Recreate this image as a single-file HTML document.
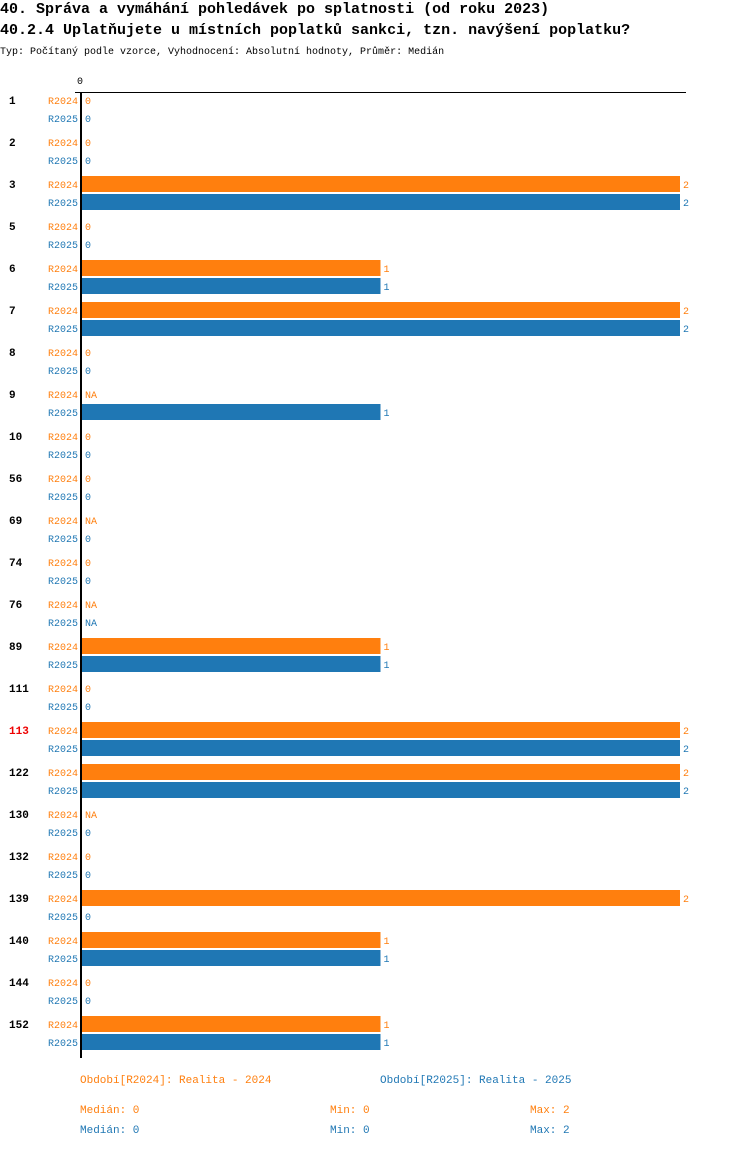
<!DOCTYPE html>
<html><head><meta charset="utf-8"><style>
body{margin:0;background:#fff;width:750px;height:1148px;overflow:hidden;font-family:"Liberation Mono",monospace}
text{font-family:"Liberation Mono",monospace}
</style></head><body>
<svg id="c" width="750" height="1148">
<text x="0" y="13" font-size="15" font-weight="bold">40. Správa a vymáhání pohledávek po splatnosti (od roku 2023)</text>
<text x="0" y="34" font-size="15" font-weight="bold">40.2.4 Uplatňujete u místních poplatků sankci, tzn. navýšení poplatku?</text>
<text x="0" y="54" font-size="10">Typ: Počítaný podle vzorce, Vyhodnocení: Absolutní hodnoty, Průměr: Medián</text>
<text x="80" y="84" font-size="10" text-anchor="middle">0</text>
<line x1="75" y1="92.5" x2="686" y2="92.5" stroke="#000"/>
<g id="bars"></g>
<line x1="81" y1="92" x2="81" y2="1058" stroke="#000" stroke-width="2"/>
<g font-size="11">
<text x="80" y="1083" fill="#ff7f0e">Období[R2024]: Realita - 2024</text>
<text x="380" y="1083" fill="#1f77b4">Období[R2025]: Realita - 2025</text>
<text x="80" y="1113" fill="#ff7f0e">Medián: 0</text>
<text x="330" y="1113" fill="#ff7f0e">Min: 0</text>
<text x="530" y="1113" fill="#ff7f0e">Max: 2</text>
<text x="80" y="1133" fill="#1f77b4">Medián: 0</text>
<text x="330" y="1133" fill="#1f77b4">Min: 0</text>
<text x="530" y="1133" fill="#1f77b4">Max: 2</text>
</g>
</svg>
<script>
const categories=["1","2","3","5","6","7","8","9","10","56","69","74","76","89","111","113","122","130","132","139","140","144","152"];
const r2024=[0,0,2,0,1,2,0,null,0,0,null,0,null,1,0,2,2,null,0,2,1,0,1];
const r2025=[0,0,2,0,1,2,0,1,0,0,0,0,null,1,0,2,2,0,0,0,1,0,1];
const highlight="113";
const NS="http://www.w3.org/2000/svg";
const g=document.getElementById('bars');
const xs=v=>81+v*299.5;
function mk(tag,attrs,txt){const e=document.createElementNS(NS,tag);for(const k in attrs)e.setAttribute(k,attrs[k]);if(txt!==undefined)e.textContent=txt;g.appendChild(e);return e;}
categories.forEach((c,i)=>{
  const y=101+42*i;
  const t=mk('text',{x:9,y:y+3,'font-size':11,'font-weight':'bold',fill:c===highlight?'#e00':'#000'},c);
  
  
  [[r2024,'R2024','#ff7f0e',0],[r2025,'R2025','#1f77b4',18]].forEach(([arr,nm,col,off])=>{
    const yy=y+off;const v=arr[i];
    const l=mk('text',{x:78,y:yy+3,'font-size':10,'text-anchor':'end',fill:col},nm);
    
    
    if(v>0){
      const r=mk('rect',{x:82,y:yy-9,width:xs(v)-82,height:16,fill:col});
      
      
    }
    const vt=mk('text',{x:(v>0?xs(v):82)+3,y:yy+3,'font-size':10,fill:col},v===null?'NA':String(v));
    
    
  });
});
</script>
</body></html>
